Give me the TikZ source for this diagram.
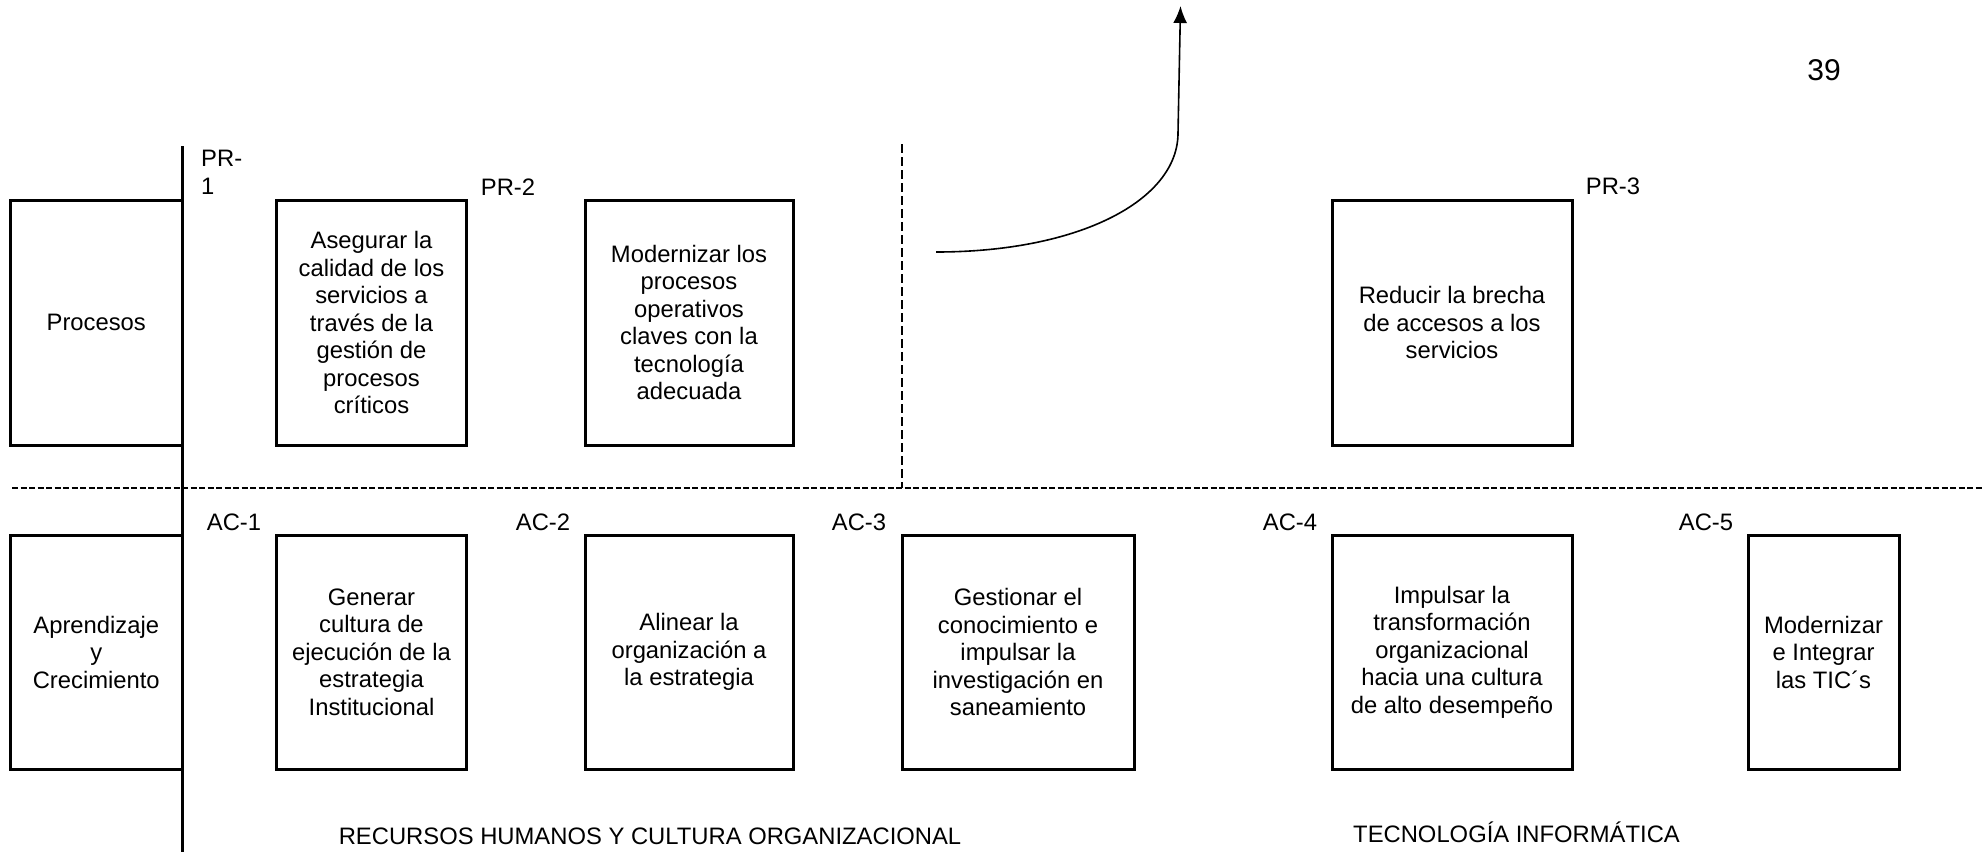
\documentclass[tikz,border=0pt]{standalone}
\usepackage{fontspec}
\setmainfont{Liberation Sans}
\usetikzlibrary{arrows.meta}
\begin{document}
\begin{tikzpicture}[x=1pt,y=-1pt,
  txt/.style={font=\fontsize{23.8}{27.5}\selectfont},
  box/.style={draw,line width=3pt,rectangle,align=center,inner sep=0pt,txt},
  topbox/.style={box,minimum height=245pt},
  botbox/.style={box,minimum height=234pt},
  lbl/.style={inner sep=0pt,txt},
  divider/.style={line width=1.6pt,dash pattern=on 6pt off 2.5pt},
  vdivider/.style={line width=1.6pt,dash pattern=on 9pt off 4pt},
  axis/.style={line width=3pt},
  curvearrow/.style={line width=1.6pt,-{Latex[length=17pt,width=14pt]}}]
\useasboundingbox (0,0) rectangle (1983,852);
\fill[white] (0,0) rectangle (1983,852);

% dividers
\draw[divider] (12,488) -- (1983,488);
\draw[vdivider] (902,144) -- (902,488);
\draw[axis] (182,146) -- (182,852);

% top row
\node[topbox,minimum width=171.5pt] (procesos) at (96.25,322.5) {Procesos};
\node[topbox,minimum width=190pt] (pr1box) at (371.5,322.5) {Asegurar la\\calidad de los\\servicios a\\través de la\\gestión de\\procesos\\críticos};
\node[topbox,minimum width=208pt] (pr2box) at (689,322.5) {Modernizar los\\procesos\\operativos\\claves con la\\tecnología\\adecuada};
\node[topbox,minimum width=240pt] (pr3box) at (1452,322.5) {Reducir la brecha\\de accesos a los\\servicios};

% bottom row
\node[botbox,minimum width=171.5pt] (aprendizaje) at (96.25,652) {Aprendizaje\\y\\Crecimiento};
\node[botbox,minimum width=190pt] (ac1box) at (371.5,652) {Generar\\cultura de\\ejecución de la\\estrategia\\Institucional};
\node[botbox,minimum width=208pt] (ac2box) at (689,652) {Alinear la\\organización a\\la estrategia};
\node[botbox,minimum width=232pt] (ac3box) at (1018,652) {Gestionar el\\conocimiento e\\impulsar la\\investigación en\\saneamiento};
\node[botbox,minimum width=240pt] (ac4box) at (1452,652) {Impulsar la\\transformación\\organizacional\\hacia una cultura\\de alto desempeño};
\node[botbox,minimum width=151pt] (ac5box) at (1823.5,652) {Modernizar\\e Integrar\\las TIC´s};

% labels
\node[lbl,align=left,anchor=west] (pr1) at (201,172.5) {PR-\\1};
\node[lbl] (pr2) at (508,187) {PR-2};
\node[lbl] (pr3) at (1613,186) {PR-3};
\node[lbl,font=\fontsize{30}{34}\selectfont] (page) at (1824,70) {39};
\node[lbl] (ac1) at (234,522) {AC-1};
\node[lbl] (ac2) at (543,522) {AC-2};
\node[lbl] (ac3) at (859,522) {AC-3};
\node[lbl] (ac4) at (1290,522) {AC-4};
\node[lbl] (ac5) at (1706,522) {AC-5};
\node[lbl] (rrhh) at (650,836) {RECURSOS HUMANOS Y CULTURA ORGANIZACIONAL};
\node[lbl] (ti) at (1516.5,832) {TECNOLOGÍA INFORMÁTICA};

% curved arrow
\coordinate (cstart) at (936,252);
\coordinate (cbend) at (1178,133);
\coordinate (cend) at (1180.5,6);
\draw[curvearrow] (cstart) .. controls (1080,252) and (1178,200) .. (cbend) -- (cend);
\end{tikzpicture}
\end{document}
